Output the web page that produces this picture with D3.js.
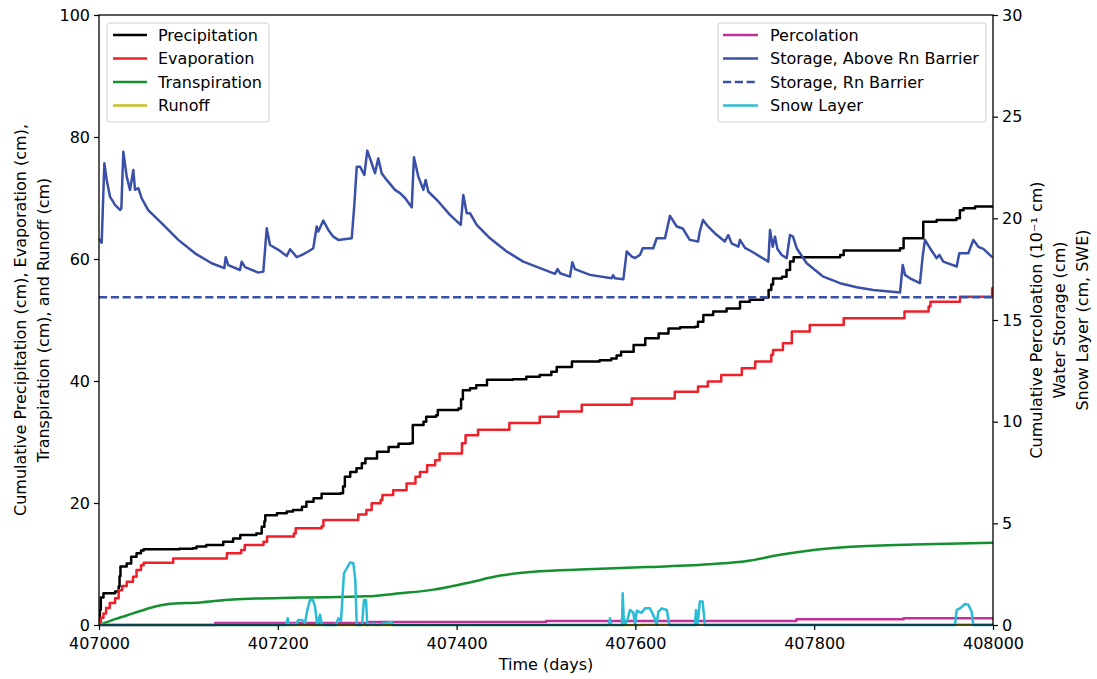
<!DOCTYPE html>
<html>
<head>
<meta charset="utf-8">
<script src="https://cdn.jsdelivr.net/npm/d3@7/dist/d3.min.js"></script>
<style>
  html, body { margin: 0; padding: 0; background: #fff; }
  svg { display: block; font-family: "DejaVu Sans", sans-serif; }
</style>
</head>
<body>
<svg id="chart" width="1097" height="679"></svg>
<script>
// Water balance time series: cumulative fluxes (left axis) and storages (right axis).
const DAY0 = 407000;
const xTicks = [407000, 407200, 407400, 407600, 407800, 408000];
const leftTicks = [0, 20, 40, 60, 80, 100];
const rightTicks = [0, 5, 10, 15, 20, 25, 30];

// Cumulative series, [day offset, cm], held until the next entry
const precipitation = [
  [0,0.3],[1,2.5],[2,4.5],[5,5.2],[18,5.5],[22,6.3],[23,8.0],[24,9.6],[31,10.1],[36,11.2],
  [42,11.75],[47,12.2],[50,12.4],[90,12.5],[105,12.6],[109,12.85],[120,13.1],[139,13.66],
  [150,14.2],[158,14.75],[176,15.0],[182,16.1],[185,17.0],[186,18.0],[199,18.3],[210,18.6],
  [217,18.85],[227,19.4],[232,20.2],[240,20.77],[249,21.5],[270,21.6],[273,22.7],[275,24.3],
  [281,25.1],[288,25.7],[294,26.5],[298,27.3],[311,28.4],[324,29.2],[335,29.7],[348,29.8],
  [351,32.8],[363,33.3],[366,34.15],[377,34.4],[379,35.25],[402,35.5],[405,37.0],[407,38.5],
  [415,38.8],[422,39.3],[434,40.2],[463,40.3],[478,40.7],[493,41.0],[506,41.5],[512,42.3],
  [529,43.2],[560,43.4],[573,43.7],[579,44.2],[584,44.8],[598,45.9],[611,47.0],[626,47.8],
  [637,48.6],[650,48.8],[667,48.9],[670,49.7],[676,50.8],[687,51.4],[702,51.9],[717,53.0],
  [728,53.3],[743,53.7],[749,54.9],[752,55.8],[754,56.8],[764,57.1],[769,58.2],[773,59.6],
  [777,60.3],[829,60.65],[833,61.4],[896,61.75],[900,63.4],[922,66.1],[937,66.4],[959,66.7],
  [963,68.0],[967,68.3],[980,68.6],[1000,68.6]
];
const evaporation = [
  [0,0.5],[2,1.2],[5,1.9],[8,2.8],[12,3.6],[18,4.4],[22,5.7],[26,6.4],[31,7.1],[38,7.9],
  [42,9.0],[47,9.8],[50,10.2],[83,10.9],[143,11.75],[159,12.3],[163,13.1],[184,13.66],
  [188,14.5],[218,15.0],[220,15.85],[249,16.2],[251,17.2],[290,18.1],[299,18.85],[305,19.95],
  [315,20.5],[317,21.3],[329,22.1],[344,23.2],[354,24.3],[359,25.1],[367,26.2],[376,27.0],
  [381,28.1],[406,29.8],[410,31.1],[424,32.0],[459,33.1],[493,34.15],[514,35.0],[540,36.1],
  [596,37.15],[644,38.25],[670,39.1],[681,39.9],[696,41.0],[719,42.1],[734,43.2],[752,44.3],
  [754,45.1],[765,46.2],[775,48.1],[795,49.2],[833,50.3],[901,51.4],[928,52.2],[930,53.0],
  [963,53.8],[999,55.2],[1000,55.2]
];
const transpiration = [
  [0,0],[19,1.0],[38,1.9],[57,2.8],[76,3.4],[113,3.7],[150,4.2],[225,4.5],[299,4.7],
  [337,5.2],[374,5.8],[412,6.9],[449,8.1],[493,8.8],[538,9.1],[613,9.5],[687,10.0],
  [725,10.5],[762,11.5],[799,12.3],[837,12.8],[911,13.2],[1000,13.5]
];
const runoff = [[0,0],[607,0.05],[960,0.1],[1000,0.1]];

// Right-axis series
const percolation = [[0,0],[130,0.1],[300,0.15],[500,0.2],[780,0.28],[900,0.33],[1000,0.33]];
const storageAbove = [
  [1,18.94],[3,18.8],[6,22.71],[8.6,21.89],[12.3,21.07],[17.9,20.66],[23.5,20.41],[25,20.5],
  [27.2,23.28],[31,22.05],[34.7,21.4],[38.4,22.38],[40.3,21.4],[44,21.48],[47.8,20.98],
  [55,20.4],[70,19.76],[88.7,18.94],[107.4,18.28],[126,17.79],[140.2,17.55],[141.7,18.09],
  [144.6,17.7],[157.7,17.46],[159.6,17.87],[163.3,17.6],[178.2,17.33],[183.8,17.38],
  [187.6,19.51],[191.3,18.69],[200.6,18.45],[210,18.15],[213.7,18.48],[221.2,18.09],
  [227.1,18.2],[234.1,18.37],[239.7,18.53],[243.5,19.6],[245.3,19.35],[250.9,19.89],
  [256.5,19.43],[262.1,19.1],[267.7,18.94],[282.7,19.02],[285.6,20.66],[288.3,22.54],
  [292,22.54],[296.8,22.13],[300.1,23.33],[305,22.71],[308.7,22.22],[312.4,22.95],
  [316.2,22.22],[321.8,21.89],[331.1,21.4],[336.7,21.24],[342.3,21.0],[349.8,20.54],
  [352.3,23.0],[357.2,22.05],[362.8,21.4],[365.4,21.89],[368.3,21.32],[379.5,20.83],
  [392.6,20.17],[404.6,19.68],[407.5,21.15],[411.3,20.25],[415,20.25],[422.5,19.68],
  [437.4,19.02],[456,18.37],[474.6,17.87],[493.3,17.55],[510,17.27],[513,17.5],[515.7,17.3],
  [526.8,17.13],[529.4,17.84],[532.4,17.5],[549.2,17.22],[573.5,17.05],[575,17.2],
  [577.2,17.05],[586.5,17.0],[590.3,18.37],[595.9,18.12],[599.6,18.05],[605.1,18.2],
  [608.2,18.53],[620,18.53],[623.8,19.02],[633.1,19.02],[638.7,20.12],[646.2,19.6],
  [653,19.5],[660.8,18.94],[670.1,18.86],[672,19.35],[675.6,19.92],[681.2,19.6],
  [688.8,19.27],[700,18.86],[703.9,19.18],[707.6,18.77],[715.1,18.61],[717,18.94],
  [722.6,18.55],[730.1,18.37],[748.7,17.87],[750.6,19.43],[753.6,18.6],[756.2,19.1],
  [758.8,18.5],[763.6,18.2],[769.2,18.04],[772.9,19.18],[776.3,19.1],[780.4,18.53],
  [791.6,17.79],[810.2,17.13],[828.9,16.81],[847.5,16.61],[866.1,16.48],[896,16.35],
  [899,17.71],[901.6,17.22],[907.2,17.05],[918.3,16.81],[921.3,18.12],[923.9,18.94],
  [929.5,18.53],[937,18.04],[939.9,18.2],[944.4,17.87],[959.4,17.63],[962.3,18.28],
  [972.4,18.28],[978,18.94],[983.6,18.6],[989.2,18.5],[998.5,18.12]
];
const storageBarrier = [[0,16.12],[1000,16.12]];
const snowLayer = [
  [0,0],[209.2,0],[211.1,0.33],[212.5,0],[221.1,0.05],[222.9,0.25],[227,0.25],[230.4,0.1],
  [233,0.74],[236,1.23],[239,1.26],[241.6,0.9],[244.2,0],[247.2,0.5],[249.4,0],[265.1,0],
  [267.7,0.33],[270.7,0.2],[274,2.54],[277.1,2.79],[280.8,3.07],[284.5,3.04],[286.7,2.21],
  [288.3,0],[294.2,0],[296.4,1.23],[298.7,1.23],[300.1,0],[307.6,0.08],[309.8,0],[327.4,0.15],
  [328.9,0],[570,0],[571.6,0.33],[573.3,0],[585,0],[585.8,1.56],[587.2,0],[590.3,0.15],
  [594,0.74],[597.7,0.6],[599.6,0],[601.5,0.7],[607,0.6],[610.7,0.82],[616.3,0.82],
  [621.9,0.3],[623.8,0],[625.6,0.65],[629.5,0.82],[635.1,0.74],[638,0],[666.7,0],
  [667.8,0.74],[669.5,0],[672.1,1.15],[675.2,1.15],[677.7,0],[957.5,0],[959.4,0.74],
  [963.1,0.82],[968.7,1.03],[972.4,1.0],[976.1,0.65],[978,0],[1000,0]
];

const leftNames = ["Precipitation", "Evaporation", "Transpiration", "Runoff"];
const rightNames = ["Percolation", "Storage, Above Rn Barrier", "Storage, Rn Barrier", "Snow Layer"];

const C = {
  precip: "#000000", evap: "#f0202a", transp: "#14902f", runoff: "#c8c020",
  perc: "#c0309a", storage: "#3a50a8", snow: "#28bcd6"
};

const W = 1097, H = 679;
const plot = { left: 99, right: 993, top: 15, bottom: 625 };
const FS = 16;
const LW = 2.5;

const svg = d3.select("#chart");
svg.append("rect").attr("width", W).attr("height", H).attr("fill", "#fff");

const x = d3.scaleLinear().domain([407000, 408000]).range([plot.left, plot.right]);
const yL = d3.scaleLinear().domain([0, 100]).range([plot.bottom, plot.top]);
const yR = d3.scaleLinear().domain([0, 30]).range([plot.bottom, plot.top]);

svg.append("clipPath").attr("id", "clip")
  .append("rect")
  .attr("x", plot.left).attr("y", plot.top - 2)
  .attr("width", plot.right - plot.left).attr("height", plot.bottom - plot.top + 4);

const g = svg.append("g").attr("clip-path", "url(#clip)");

function draw(data, yScale, color, curve, dash) {
  const line = d3.line()
    .x(d => x(DAY0 + d[0]))
    .y(d => yScale(d[1]))
    .curve(curve);
  const p = g.append("path")
    .datum(data)
    .attr("d", line)
    .attr("fill", "none")
    .attr("stroke", color)
    .attr("stroke-width", LW)
    .attr("stroke-linejoin", "round")
    .attr("stroke-linecap", dash ? "butt" : "round");
  if (dash) p.attr("stroke-dasharray", dash);
}

// left-axis series
draw(precipitation, yL, C.precip, d3.curveStepAfter);
draw(evaporation, yL, C.evap, d3.curveStepAfter);
draw(transpiration, yL, C.transp, d3.curveMonotoneX);
draw(runoff, yL, C.runoff, d3.curveStepAfter);
// right-axis series
draw(percolation, yR, C.perc, d3.curveStepAfter);
draw(storageAbove, yR, C.storage, d3.curveLinear);
draw(storageBarrier, yR, C.storage, d3.curveLinear, "8.2,3.6");
draw(snowLayer, yR, C.snow, d3.curveLinear);

// axes
function styleAxis(sel) {
  sel.selectAll("path.domain").remove();
  sel.selectAll("line").attr("stroke", "#000").attr("stroke-width", 1.2);
  sel.selectAll("text").attr("font-size", FS).attr("fill", "#000")
    .attr("font-family", "DejaVu Sans, sans-serif");
}
svg.append("g").attr("transform", `translate(0,${plot.bottom})`)
  .call(d3.axisBottom(x).tickValues(xTicks).tickFormat(d3.format("d")).tickSize(5).tickPadding(8))
  .call(styleAxis);
svg.append("g").attr("transform", `translate(${plot.left},0)`)
  .call(d3.axisLeft(yL).tickValues(leftTicks).tickFormat(d3.format("d")).tickSize(5).tickPadding(4))
  .call(styleAxis);
svg.append("g").attr("transform", `translate(${plot.right},0)`)
  .call(d3.axisRight(yR).tickValues(rightTicks).tickFormat(d3.format("d")).tickSize(5).tickPadding(4))
  .call(styleAxis);

// frame
svg.append("rect")
  .attr("x", plot.left).attr("y", plot.top)
  .attr("width", plot.right - plot.left).attr("height", plot.bottom - plot.top)
  .attr("fill", "none").attr("stroke", "#000").attr("stroke-width", 1.3);

// axis titles
svg.append("text")
  .attr("x", (plot.left + plot.right) / 2).attr("y", 670)
  .attr("text-anchor", "middle").attr("font-size", FS)
  .text("Time (days)");

const leftTitle = ["Cumulative Precipitation (cm), Evaporation (cm),", "Transpiration (cm), and Runoff (cm)"];
leftTitle.forEach((t, i) => {
  svg.append("text")
    .attr("transform", `translate(${20 + i * 23},${(plot.top + plot.bottom) / 2}) rotate(-90)`)
    .attr("text-anchor", "middle").attr("dominant-baseline", "central")
    .attr("font-size", FS).text(t);
});
const rightTitle = ["Cumulative Percoloation (10\u207B\u00B9 cm)", "Water Storage (cm)", "Snow Layer (cm, SWE)"];
rightTitle.forEach((t, i) => {
  svg.append("text")
    .attr("transform", `translate(${1036 + i * 23},${(plot.top + plot.bottom) / 2}) rotate(-90)`)
    .attr("text-anchor", "middle").attr("dominant-baseline", "central")
    .attr("font-size", FS).text(t);
});

// legends
function legend(box, items) {
  const lg = svg.append("g");
  lg.append("rect")
    .attr("x", box.x).attr("y", box.y).attr("width", box.w).attr("height", box.h)
    .attr("rx", 3).attr("fill", "#fff").attr("fill-opacity", 0.85)
    .attr("stroke", "#d0d0d0").attr("stroke-width", 1);
  items.forEach((it, i) => {
    const cy = box.y + 12 + i * 23.5;
    const ln = lg.append("line")
      .attr("x1", box.x + box.hx0).attr("x2", box.x + box.hx1)
      .attr("y1", cy).attr("y2", cy)
      .attr("stroke", it.color).attr("stroke-width", LW);
    if (it.dash) ln.attr("stroke-dasharray", it.dash);
    lg.append("text")
      .attr("x", box.x + box.tx).attr("y", cy)
      .attr("dominant-baseline", "central").attr("font-size", FS)
      .text(it.name);
  });
}
legend({ x: 107, y: 23, w: 162, h: 99, hx0: 6, hx1: 40, tx: 51 }, [
  { name: leftNames[0], color: C.precip },
  { name: leftNames[1], color: C.evap },
  { name: leftNames[2], color: C.transp },
  { name: leftNames[3], color: C.runoff }
]);
legend({ x: 718, y: 23, w: 268, h: 99, hx0: 5, hx1: 40, tx: 52 }, [
  { name: rightNames[0], color: C.perc },
  { name: rightNames[1], color: C.storage },
  { name: rightNames[2], color: C.storage, dash: "8.2,3.6" },
  { name: rightNames[3], color: C.snow }
]);
</script>
</body>
</html>
